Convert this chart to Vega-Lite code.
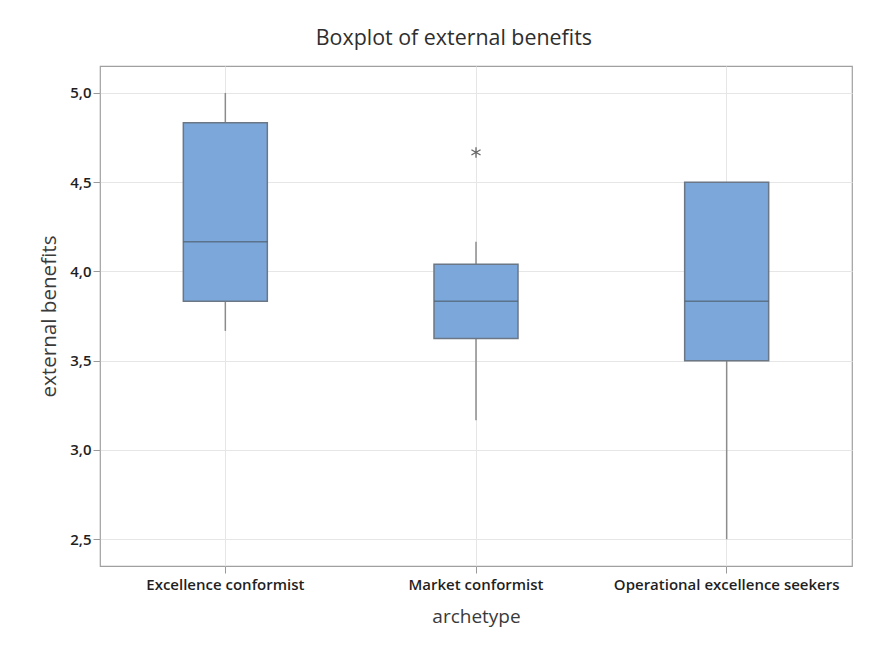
{
  "$schema": "https://vega.github.io/schema/vega-lite/v6.json",
  "autosize": {"type": "none"},
  "padding": {"left": 100, "top": 66, "right": 27, "bottom": 80},
  "width": 752,
  "height": 500,
  "background": "white",
  "title": {
    "text": "Boxplot of external benefits",
    "frame": "bounds",
    "anchor": "middle",
    "font": "Open Sans",
    "fontSize": 21.4,
    "fontWeight": "normal",
    "color": "#2e2e2e",
    "offset": 17,
    "dx": 8
  },
  "datasets": {
    "boxes": [
      {"archetype": "Excellence conformist", "low": 3.667, "q1": 3.833, "median": 4.167, "q3": 4.833, "high": 5.0},
      {"archetype": "Market conformist", "low": 3.167, "q1": 3.625, "median": 3.833, "q3": 4.04, "high": 4.167},
      {"archetype": "Operational excellence seekers", "low": 2.5, "q1": 3.5, "median": 3.833, "q3": 4.5, "high": 4.5}
    ],
    "outliers": [
      {"archetype": "Market conformist", "value": 4.667}
    ]
  },
  "encoding": {
    "x": {
      "field": "archetype",
      "type": "nominal",
      "sort": ["Excellence conformist", "Market conformist", "Operational excellence seekers"],
      "scale": {"paddingInner": 0, "paddingOuter": 0},
      "axis": {
        "title": "archetype",
        "labelAngle": 0,
        "labelLimit": 400,
        "domain": false,
        "grid": true,
        "gridColor": "#e6e6e6",
        "tickColor": "#999999",
        "tickSize": 7,
        "labelFont": "Open Sans",
        "labelFontSize": 15,
        "labelFontWeight": 600,
        "labelColor": "#1f1f1f",
        "labelPadding": 4,
        "titleFont": "Open Sans",
        "titleFontSize": 19,
        "titleFontWeight": "normal",
        "titleColor": "#3a3a3a",
        "titlePadding": 15
      }
    }
  },
  "layer": [
    {
      "data": {"name": "boxes"},
      "mark": {"type": "rule", "color": "#8c8c8c", "strokeWidth": 1.5},
      "encoding": {
        "y": {
          "field": "low",
          "type": "quantitative",
          "scale": {"domain": [2.35, 5.151], "nice": false, "zero": false},
          "axis": {
            "title": "external benefits",
            "values": [2.5, 3.0, 3.5, 4.0, 4.5, 5.0],
            "labelExpr": "replace(format(datum.value, '.1f'), '.', ',')",
            "domain": false,
            "grid": true,
            "gridColor": "#e6e6e6",
            "tickColor": "#999999",
            "tickSize": 7,
            "labelFont": "Open Sans",
            "labelFontSize": 15,
            "labelFontWeight": 600,
            "labelColor": "#1f1f1f",
            "labelPadding": 2,
            "titleFont": "Open Sans",
            "titleFontSize": 20.6,
            "titleFontWeight": "normal",
            "titleColor": "#3a3a3a",
            "titlePadding": 10
          }
        },
        "y2": {"field": "high"}
      }
    },
    {
      "data": {"name": "boxes"},
      "mark": {"type": "bar", "width": 84, "fill": "#7ba7da", "stroke": "#6b7785", "strokeWidth": 1.5},
      "encoding": {
        "y": {"field": "q1", "type": "quantitative"},
        "y2": {"field": "q3"}
      }
    },
    {
      "data": {"name": "boxes"},
      "mark": {"type": "tick", "size": 84, "thickness": 1.5, "color": "#4f5c69"},
      "encoding": {
        "y": {"field": "median", "type": "quantitative"}
      }
    },
    {
      "data": {"name": "outliers"},
      "mark": {
        "type": "point",
        "shape": "M0,-1L0,1M-0.87,-0.5L0.87,0.5M-0.87,0.5L0.87,-0.5",
        "filled": false,
        "size": 110,
        "stroke": "#666666",
        "strokeWidth": 1.3,
        "opacity": 1
      },
      "encoding": {
        "y": {"field": "value", "type": "quantitative"}
      }
    }
  ],
  "config": {
    "view": {"stroke": "#a0a0a0", "strokeWidth": 1.2}
  }
}
